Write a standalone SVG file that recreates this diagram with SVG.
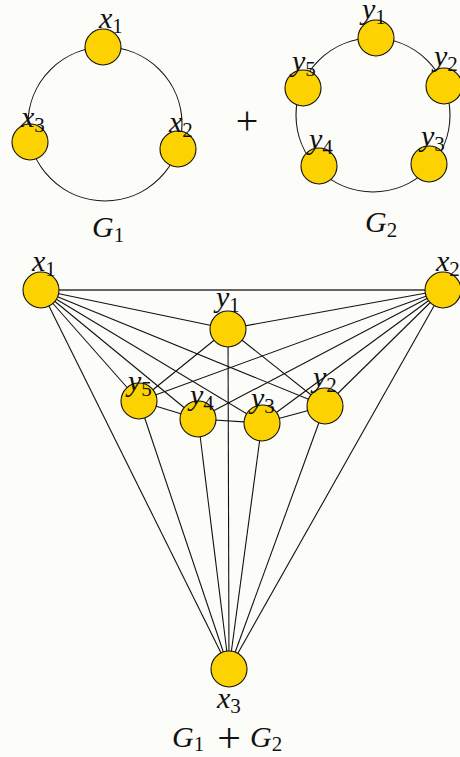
<svg xmlns="http://www.w3.org/2000/svg" width="460" height="757" viewBox="0 0 460 757">
  <style>
    .edge { stroke: #111; stroke-width: 1.1; fill: none; }
    .node { fill: #FCD300; stroke: #111; stroke-width: 1.1; }
    .lbl { font-family: "Liberation Serif", "DejaVu Serif", serif; font-size: 30px; fill: #111; }
    .v { font-style: italic; }
    .sub { font-size: 21px; }
    .op { font-family: "Liberation Serif", "DejaVu Serif", serif; fill: #111; text-anchor: middle; }
  </style>
  <rect width="460" height="757" fill="#fcfcf8"/>

  <!-- G1: cycle on three vertices -->
  <g id="g1-cycle">
    <circle class="edge" cx="105" cy="124" r="77"/>
  </g>
  <g id="g1-x1"><circle class="node" cx="103" cy="47" r="18"/><text class="lbl" x="99" y="28"><tspan class="v">x</tspan><tspan class="sub" dy="5">1</tspan></text></g>
  <g id="g1-x2"><circle class="node" cx="178" cy="149" r="18"/><text class="lbl" x="169" y="132"><tspan class="v">x</tspan><tspan class="sub" dy="5">2</tspan></text></g>
  <g id="g1-x3"><circle class="node" cx="30" cy="142" r="18"/><text class="lbl" x="21" y="127"><tspan class="v">x</tspan><tspan class="sub" dy="5">3</tspan></text></g>
  <text class="lbl" x="92" y="237"><tspan class="v">G</tspan><tspan class="sub" dy="5">1</tspan></text>

  <!-- plus sign between the two graphs -->
  <text class="op" x="247" y="134" font-size="40">+</text>

  <!-- G2: cycle on five vertices -->
  <g id="g2-cycle">
    <circle class="edge" cx="373" cy="115" r="77"/>
  </g>
  <g id="g2-y1"><circle class="node" cx="376" cy="38" r="18"/><text class="lbl" x="362" y="19"><tspan class="v">y</tspan><tspan class="sub" dy="5">1</tspan></text></g>
  <g id="g2-y2"><circle class="node" cx="444" cy="86" r="18"/><text class="lbl" x="434" y="66"><tspan class="v">y</tspan><tspan class="sub" dy="5">2</tspan></text></g>
  <g id="g2-y3"><circle class="node" cx="429" cy="164" r="18"/><text class="lbl" x="421" y="146"><tspan class="v">y</tspan><tspan class="sub" dy="5">3</tspan></text></g>
  <g id="g2-y4"><circle class="node" cx="319" cy="166" r="18"/><text class="lbl" x="309" y="149"><tspan class="v">y</tspan><tspan class="sub" dy="5">4</tspan></text></g>
  <g id="g2-y5"><circle class="node" cx="303" cy="88" r="18"/><text class="lbl" x="292" y="71"><tspan class="v">y</tspan><tspan class="sub" dy="5">5</tspan></text></g>
  <text class="lbl" x="365" y="232"><tspan class="v">G</tspan><tspan class="sub" dy="5">2</tspan></text>

  <!-- G1 + G2: join of the two cycles -->
  <g id="join-edges" class="edge">
    <!-- x1-x2-x3 cycle -->
    <line x1="41" y1="290" x2="443" y2="290" stroke-width="1.5" stroke="#333"/>
    <line x1="41" y1="290" x2="229" y2="669"/>
    <line x1="443" y1="290" x2="229" y2="669"/>
    <!-- y cycle -->
    <line x1="228" y1="329" x2="325" y2="406"/>
    <line x1="325" y1="406" x2="262" y2="423"/>
    <line x1="262" y1="423" x2="198" y2="419"/>
    <line x1="198" y1="419" x2="139" y2="401"/>
    <line x1="139" y1="401" x2="228" y2="329"/>
    <!-- x1 to every y -->
    <line x1="41" y1="290" x2="228" y2="329"/>
    <line x1="41" y1="290" x2="325" y2="406"/>
    <line x1="41" y1="290" x2="262" y2="423"/>
    <line x1="41" y1="290" x2="198" y2="419"/>
    <line x1="41" y1="290" x2="139" y2="401"/>
    <!-- x2 to every y -->
    <line x1="443" y1="290" x2="228" y2="329"/>
    <line x1="443" y1="290" x2="325" y2="406"/>
    <line x1="443" y1="290" x2="262" y2="423"/>
    <line x1="443" y1="290" x2="198" y2="419"/>
    <line x1="443" y1="290" x2="139" y2="401"/>
    <!-- x3 to every y -->
    <line x1="229" y1="669" x2="228" y2="329"/>
    <line x1="229" y1="669" x2="325" y2="406"/>
    <line x1="229" y1="669" x2="262" y2="423"/>
    <line x1="229" y1="669" x2="198" y2="419"/>
    <line x1="229" y1="669" x2="139" y2="401"/>
  </g>

  <g id="j-x1"><circle class="node" cx="41" cy="290" r="18"/><text class="lbl" x="32" y="271"><tspan class="v">x</tspan><tspan class="sub" dy="5">1</tspan></text></g>
  <g id="j-x2"><circle class="node" cx="443" cy="290" r="18"/><text class="lbl" x="436" y="271"><tspan class="v">x</tspan><tspan class="sub" dy="5">2</tspan></text></g>
  <g id="j-x3"><circle class="node" cx="229" cy="669" r="18"/><text class="lbl" x="217" y="708"><tspan class="v">x</tspan><tspan class="sub" dy="5">3</tspan></text></g>
  <g id="j-y1"><circle class="node" cx="228" cy="329" r="18"/><text class="lbl" x="216" y="307"><tspan class="v">y</tspan><tspan class="sub" dy="5">1</tspan></text></g>
  <g id="j-y2"><circle class="node" cx="325" cy="406" r="18"/><text class="lbl" x="313" y="387"><tspan class="v">y</tspan><tspan class="sub" dy="5">2</tspan></text></g>
  <g id="j-y3"><circle class="node" cx="262" cy="423" r="18"/><text class="lbl" x="251" y="408"><tspan class="v">y</tspan><tspan class="sub" dy="5">3</tspan></text></g>
  <g id="j-y4"><circle class="node" cx="198" cy="419" r="18"/><text class="lbl" x="190" y="405"><tspan class="v">y</tspan><tspan class="sub" dy="5">4</tspan></text></g>
  <g id="j-y5"><circle class="node" cx="139" cy="401" r="18"/><text class="lbl" x="128" y="391"><tspan class="v">y</tspan><tspan class="sub" dy="5">5</tspan></text></g>

  <!-- caption of the join -->
  <text class="lbl" y="747"><tspan class="v" x="172">G</tspan><tspan class="sub" dy="4">1</tspan><tspan class="v" x="250" dy="-4">G</tspan><tspan class="sub" dy="4">2</tspan></text>
  <text class="op" x="229" y="752" font-size="42">+</text>
</svg>
